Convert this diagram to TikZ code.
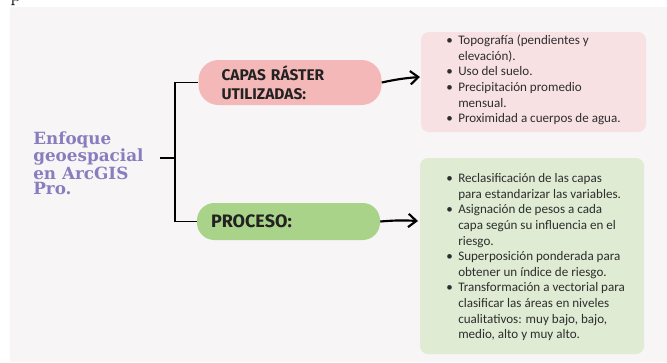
\documentclass[tikz,border=0pt]{standalone}
\usepackage{fontspec}
\setmainfont{Carlito}
\newfontfamily\titlefont{DejaVu Serif}
\newfontfamily\pillfont{Fira Sans}
\newfontfamily\stubfont{Latin Modern Roman}
\usetikzlibrary{arrows.meta}
\definecolor{bg}{HTML}{F7F5F6}
\definecolor{titlepurple}{HTML}{8A7DBE}
\definecolor{pinkpill}{HTML}{F5B8B8}
\definecolor{greenpill}{HTML}{A8D389}
\definecolor{pinkbox}{HTML}{F8E1E3}
\definecolor{greenbox}{HTML}{DFEBD3}
\definecolor{ink}{HTML}{222222}
\definecolor{bodyink}{HTML}{2E2E2E}
\begin{document}
\begin{tikzpicture}[x=0.75pt,y=-0.75pt,
  conn/.style={draw=black,line width=1pt},
  arr/.style={draw=black,line width=1.6pt,-{Straight Barb[length=6pt,width=10pt,line width=1.6pt]}},
  pillbox/.style={inner ysep=0pt,minimum height=#1,align=left,text=ink},
  infobox/.style={rounded corners=6pt,inner sep=0pt},
  bullets/.style={anchor=west,inner sep=0pt,align=left,text=bodyink,
    font=\fontsize{9.8pt}{11.7pt}\selectfont},
  titletext/.style={anchor=north west,inner sep=0pt,align=left,text=titlepurple,
    font=\titlefont\bfseries\fontsize{12.6pt}{11.6pt}\selectfont}
]
\useasboundingbox (0,0) rectangle (667,362);
\fill[white] (0,0) rectangle (667,362);
\fill[bg] (10,7) rectangle (667,362);
\node[inner sep=0pt,anchor=base west,font=\stubfont\fontsize{16pt}{16pt}\selectfont] (stubp) at (10,1) {p};

% title
\node[titletext] (title) at (33,131) {Enfoque\\geoespacial\\en ArcGIS\\Pro.};

% pills
\node[pillbox=33.75pt,fill=pinkpill,rounded corners=15pt,text width=102.75pt,inner xsep=17.25pt,
  font=\pillfont\bfseries\fontsize{11.6pt}{14.2pt}\selectfont] (pill1) at (290,82.5) {CAPAS RÁSTER\\UTILIZADAS:};
\node[pillbox=27.75pt,fill=greenpill,rounded corners=13pt,text width=116.25pt,inner xsep=10.5pt,
  font=\pillfont\bfseries\fontsize{13.5pt}{14.2pt}\selectfont] (pill2) at (288.5,221.5) {PROCESO:};

% boxes
\node[infobox,fill=pinkbox,minimum width=168.75pt,minimum height=75pt] (box1) at (533.5,82) {};
\node[infobox,fill=greenbox,minimum width=168pt,minimum height=147pt] (box2) at (532,256) {};

\node[bullets] (list1) at (446,80.5) {%
\begin{tabular}{@{}l@{}l@{}}
\makebox[9pt][l]{•} & Topografía (pendientes y\\
 & elevación).\\
\makebox[9pt][l]{•} & Uso del suelo.\\
\makebox[9pt][l]{•} & Precipitación promedio\\
 & mensual.\\
\makebox[9pt][l]{•} & Proximidad a cuerpos de agua.
\end{tabular}};

\node[bullets] (list2) at (446,257.5) {%
\begin{tabular}{@{}l@{}l@{}}
\makebox[9pt][l]{•} & Reclasificación de las capas\\
 & para estandarizar las variables.\\
\makebox[9pt][l]{•} & Asignación de pesos a cada\\
 & capa según su influencia en el\\
 & riesgo.\\
\makebox[9pt][l]{•} & Superposición ponderada para\\
 & obtener un índice de riesgo.\\
\makebox[9pt][l]{•} & Transformación a vectorial para\\
 & clasificar las áreas en niveles\\
 & cualitativos: muy bajo, bajo,\\
 & medio, alto y muy alto.
\end{tabular}};

% connectors
\coordinate (stub) at (160,158);
\coordinate (j) at (175,158);
\coordinate (a1) at (420,77);
\coordinate (a2) at (418,221);
\draw[conn] (stub) -- (j);
\draw[conn] (pill1.west) -| (j) |- (pill2.west);
\draw[arr] (pill1.east) to[bend left=4] (a1);
\draw[arr] (pill2.east) to[bend left=4] (a2);
\end{tikzpicture}
\end{document}
